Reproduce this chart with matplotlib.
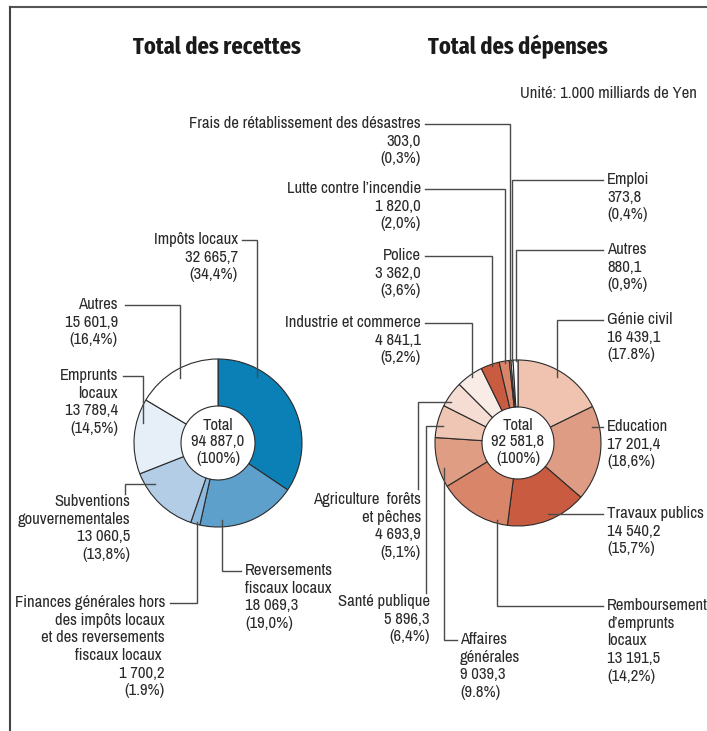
import numpy as np
import matplotlib.pyplot as plt

W, H = 707, 731

# ---- data ----
rec_labels = ["Impôts locaux", "Reversements\nfiscaux locaux",
              "Finances générales hors\ndes impôts locaux\net des reversements\nfiscaux locaux ",
              "Subventions\ngouvernementales", "Emprunts\nlocaux", "Autres"]
rec_values = [32665.7, 18069.3, 1700.2, 13060.5, 13789.4, 15601.9]
rec_pct = ["34,4%", "19,0%", "1.9%", "13,8%", "14,5%", "16,4%"]
rec_colors = ["#0a80b6", "#5da0cc", "#8db9dd", "#b3cde6", "#e6eef7", "#ffffff"]

dep_labels = ["Génie civil", "Education", "Travaux publics",
              "Remboursement\nd’emprunts\nlocaux", "Affaires\ngénérales",
              "Santé publique", "Agriculture  forêts\net pêches",
              "Industrie et commerce", "Police", "Lutte contre l’incendie",
              "Frais de rétablissement des désastres", "Emploi", "Autres"]
dep_values = [16439.1, 17201.4, 14540.2, 13191.5, 9039.3, 5896.3, 4693.9,
              4841.1, 3362.0, 1820.0, 303.0, 373.8, 880.1]
dep_pct = ["17.8%", "18,6%", "15,7%", "14,2%", "9.8%", "6,4%", "5,1%",
           "5,2%", "3,6%", "2,0%", "0,3%", "0,4%", "0,9%"]
dep_colors = ["#efc3af", "#de9c84", "#c95c40", "#d9856a", "#df9d84", "#efc5b3",
              "#f5ddd3", "#f9ece6", "#c95c40", "#d9856a", "#e7ab94", "#ffffff", "#ffffff"]

rec_total, dep_total = "94 887,0", "92 581,8"

# ---- layout (image pixel coords): text x, y, ha, route, line start, anchor frac, radius frac ----
rec_layout = [
    (238, 240, "right", "hv", (242, 240), .25, .91),
    (245, 571, "left", "hv", (241, 571), .77, .92),
    (165, 603, "right", "hv", (170, 603), .40, .97),
    (130, 502, "right", "vh", (125, 494), .77, .89),
    (118, 376, "right", "hv", (123, 376), .70, .93),
    (118, 305, "right", "hv", (125, 305), .49, .90),
]
dep_layout = [
    (607, 320, "left", "hv", (603, 320), .48, .92),
    (607, 427, "left", "h", (603, 427), .18, .92),
    (607, 514, "left", "h", (603, 514), .45, .90),
    (607, 606, "left", "hv", (603, 606), .15, .96),
    (460, 640, "left", "hv", (457, 640), .36, .94),
    (430, 602, "right", "vh", (426, 593), .38, .93),
    (421, 500, "right", "vh", (418, 489), .26, .95),
    (421, 323, "right", "hv", (425, 323), .54, .97),
    (421, 256, "right", "hv", (425, 256), .60, .98),
    (421, 189, "right", "hv", (425, 189), .60, .98),
    (421, 124, "right", "hv", (425, 124), .50, .99),
    (607, 180, "left", "hv", (603, 180), .50, .99),
    (607, 250, "left", "hv", (603, 250), .50, .99),
]

plt.rcParams["font.family"] = ["Archivo Narrow", "IBM Plex Sans Condensed", "DejaVu Sans"]
TITLE_FONT = ["Fira Sans Extra Condensed", "IBM Plex Sans Condensed", "DejaVu Sans"]
FS = 12
LS = 1.22

fig = plt.figure(figsize=(W / 100, H / 100), dpi=100)
ax = fig.add_axes([0, 0, 1, 1])


def fmt(v):
    return f"{v:,.1f}".replace(",", " ").replace(".", ",")


def donut(cx, cy, R, rin, values, colors, labels, pcts, layout, total):
    ax.pie(values, colors=colors, startangle=90, counterclock=False, radius=R,
           center=(cx, H - cy),
           wedgeprops=dict(width=R - rin, edgecolor="#2b2b2b", linewidth=0.8))
    ax.text(cx, H - cy + 1, f"Total\n{total}\n(100%)", ha="center", va="center",
            fontsize=FS, color="#2a2a2a", linespacing=1.15)
    fr = np.array(values) / sum(values)
    starts = np.concatenate([[0], np.cumsum(fr)[:-1]]) * 360
    for i, (tx, ty, ha, route, (sx, sy), f, rf) in enumerate(layout):
        a = np.radians(starts[i] + f * fr[i] * 360)
        axx = cx + rf * R * np.sin(a)
        ayy = cy - rf * R * np.cos(a)
        if route == "hv":
            pts = [(sx, sy), (axx, sy), (axx, ayy)]
        elif route == "vh":
            pts = [(sx, sy), (sx, ayy), (axx, ayy)]
        else:
            pts = [(sx, sy), (axx, sy)]
        xs, ys = zip(*pts)
        ax.plot(xs, [H - y for y in ys], color="#4a4a4a", lw=1.0,
                solid_joinstyle="miter", zorder=5)
        txt = f"{labels[i]}\n{fmt(values[i])}\n({pcts[i]})"
        ax.text(tx, H - ty + 8, txt, ha=ha, va="top", fontsize=FS,
                color="#2a2a2a", linespacing=LS)


donut(218, 443, 84, 37, rec_values, rec_colors, rec_labels, rec_pct, rec_layout, rec_total)
donut(518, 443, 83, 36, dep_values, dep_colors, dep_labels, dep_pct, dep_layout, dep_total)

ax.text(217, H - 47, "Total des recettes", ha="center", va="center",
        fontsize=17.5, fontweight="bold", family=TITLE_FONT, color="#1a1a1a")
ax.text(518, H - 47, "Total des dépenses", ha="center", va="center",
        fontsize=17.5, fontweight="bold", family=TITLE_FONT, color="#1a1a1a")
ax.text(697, H - 93, "Unité: 1.000 milliards de Yen", ha="right", va="center",
        fontsize=FS, color="#2a2a2a")

# frame lines
ax.plot([10, W], [H - 7, H - 7], color="#555", lw=1.5)
ax.plot([10, 10], [H - 7, 0], color="#444", lw=1.5)

ax.set_xlim(0, W)
ax.set_ylim(0, H)
ax.set_aspect("auto")
ax.axis("off")

fig.savefig("out.png", dpi=100)
